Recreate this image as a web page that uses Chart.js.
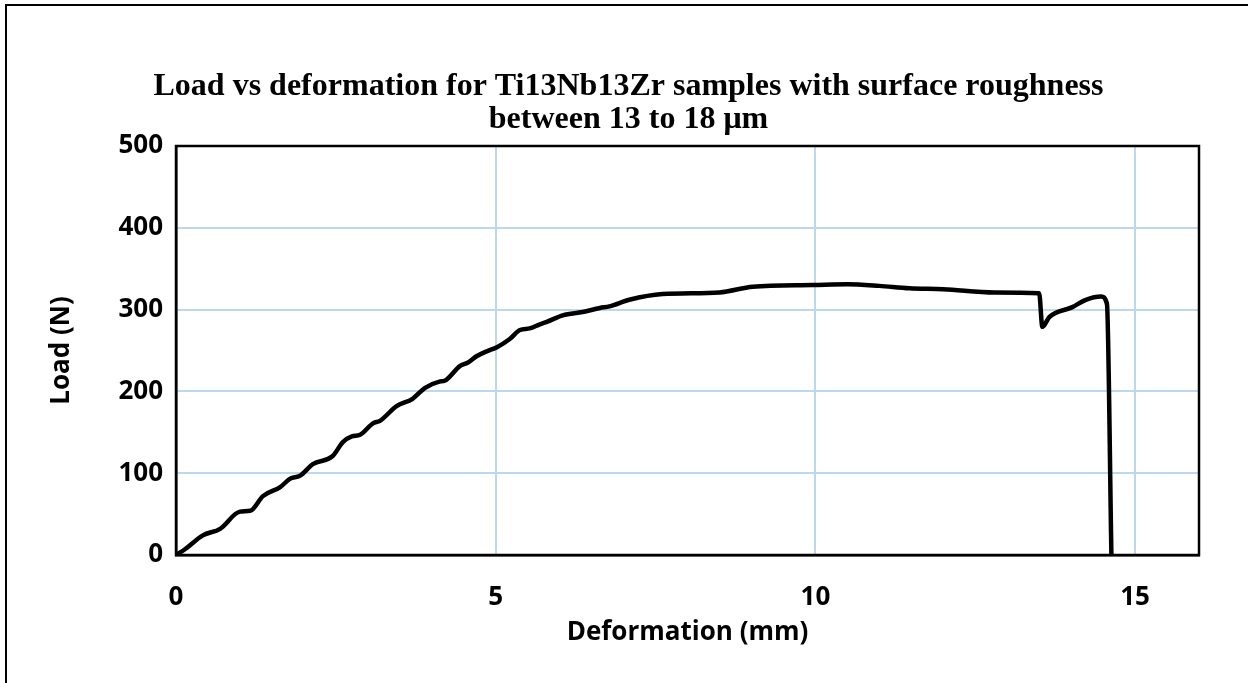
<!DOCTYPE html>
<html>
<head>
<meta charset="utf-8">
<script src="https://cdn.jsdelivr.net/npm/chart.js@4.4.0/dist/chart.umd.min.js"></script>
<style>
  html, body { margin: 0; padding: 0; background: #fff; }
  #wrap { position: relative; width: 1253px; height: 683px; overflow: hidden; }
  #frame { position: absolute; left: 5px; top: 4px; width: 1243px; height: 700px;
           border-left: 2.5px solid #000; border-top: 2.5px solid #000; box-sizing: border-box; }
  #c { position: absolute; left: 0; top: 0; }
</style>
</head>
<body>
<div id="wrap">
  <div id="frame"></div>
  <canvas id="c" width="1253" height="683"></canvas>
</div>
<script>
// 変形量 (mm)
const deformation = [0, 0.14, 0.42, 0.69, 1.0, 1.16, 1.36, 1.63, 1.78, 1.94, 2.14, 2.45, 2.61, 2.75, 2.88,
    3.08, 3.19, 3.45, 3.70, 3.89, 4.12, 4.2, 4.44, 4.56, 4.70, 4.86, 5.02, 5.22, 5.38, 5.53, 5.69, 5.80,
    6.05, 6.36, 6.63, 6.78, 7.09, 7.61, 8.5, 9.02, 9.95, 10.5, 11.0, 11.47, 12.0, 12.8, 13.5, 13.55,
    13.66, 14.02, 14.23, 14.47, 14.56, 14.63];
// 荷重 (N)
const load = [0, 7, 24, 32, 53, 54, 72, 83, 93, 97, 111, 121, 138, 145, 147,
    161, 164, 182, 191, 204, 212, 213, 231, 235, 243, 249, 254, 264, 275, 277, 282, 285,
    293, 297, 302, 304, 312, 319, 321, 328, 330, 331, 329, 326, 325, 321, 320, 279,
    291, 303, 312, 316, 307, 0];

const xTicks = [0, 5, 10, 15];
const yTicks = [0, 100, 200, 300, 400, 500];

const titleLines = ['Load vs deformation for Ti13Nb13Zr samples with surface roughness', 'between 13 to 18 μm'];

const tickFont = { family: "'Open Sans', sans-serif", size: 26, weight: 'bold' };
const gridColor = '#BDD7EE';

// タイトル (キャンバス全体の中央に描く)
const titlePlugin = {
    id: 'centerTitle',
    beforeDraw(chart) {
        const ctx = chart.ctx;
        ctx.save();
        ctx.fillStyle = '#000';
        ctx.font = "bold 32px 'Liberation Serif', 'Times New Roman', serif";
        ctx.textAlign = 'center';
        ctx.textBaseline = 'middle';
        titleLines.forEach((t, i) => ctx.fillText(t, chart.width / 2 + 2, 87 + i * 33));
        ctx.restore();
    }
};

// プロット領域の枠線
const boxPlugin = {
    id: 'box',
    afterDraw(chart) {
        const { ctx, chartArea: a } = chart;
        ctx.save();
        ctx.strokeStyle = '#000';
        ctx.lineWidth = 2.5;
        ctx.strokeRect(a.left, a.top, a.right - a.left, a.bottom - a.top);
        ctx.restore();
    }
};

new Chart(document.getElementById('c'), {
    type: 'line',
    data: {
        datasets: [{
            data: deformation.map((x, i) => ({ x: x, y: load[i] })),
            borderColor: '#000',
            borderWidth: 4.5,
            pointRadius: 0,
            fill: false,
            cubicInterpolationMode: 'monotone',
            borderJoinStyle: 'round',
            borderCapStyle: 'round'
        }]
    },
    options: {
        responsive: false,
        animation: false,
        layout: { padding: { left: 0, right: 54, top: 146, bottom: 0 } },
        plugins: {
            legend: { display: false },
            tooltip: { enabled: false },
            title: { display: false }
        },
        scales: {
            x: {
                type: 'linear',
                min: 0,
                max: 16,
                afterBuildTicks: s => { s.ticks = xTicks.map(v => ({ value: v })); },
                afterFit: s => { s.height = 128; },
                ticks: { color: '#000', font: tickFont, padding: 27, maxRotation: 0 },
                grid: { color: gridColor, lineWidth: 2, drawTicks: false },
                border: { color: '#000', width: 2.5 },
                title: {
                    display: true,
                    text: 'Deformation (mm)',
                    color: '#000',
                    font: tickFont,
                    padding: { top: 0, bottom: 35 }
                }
            },
            y: {
                type: 'linear',
                min: 0,
                max: 500,
                afterBuildTicks: s => { s.ticks = yTicks.map(v => ({ value: v })); },
                afterFit: s => { s.width = 176; },
                ticks: { color: '#000', font: tickFont, padding: 13 },
                grid: { color: gridColor, lineWidth: 2, drawTicks: false },
                border: { color: '#000', width: 2.5 },
                title: {
                    display: true,
                    text: 'Load (N)',
                    color: '#000',
                    font: tickFont,
                    padding: { top: 46, bottom: 0 }
                }
            }
        }
    },
    plugins: [titlePlugin, boxPlugin]
});
</script>
</body>
</html>
